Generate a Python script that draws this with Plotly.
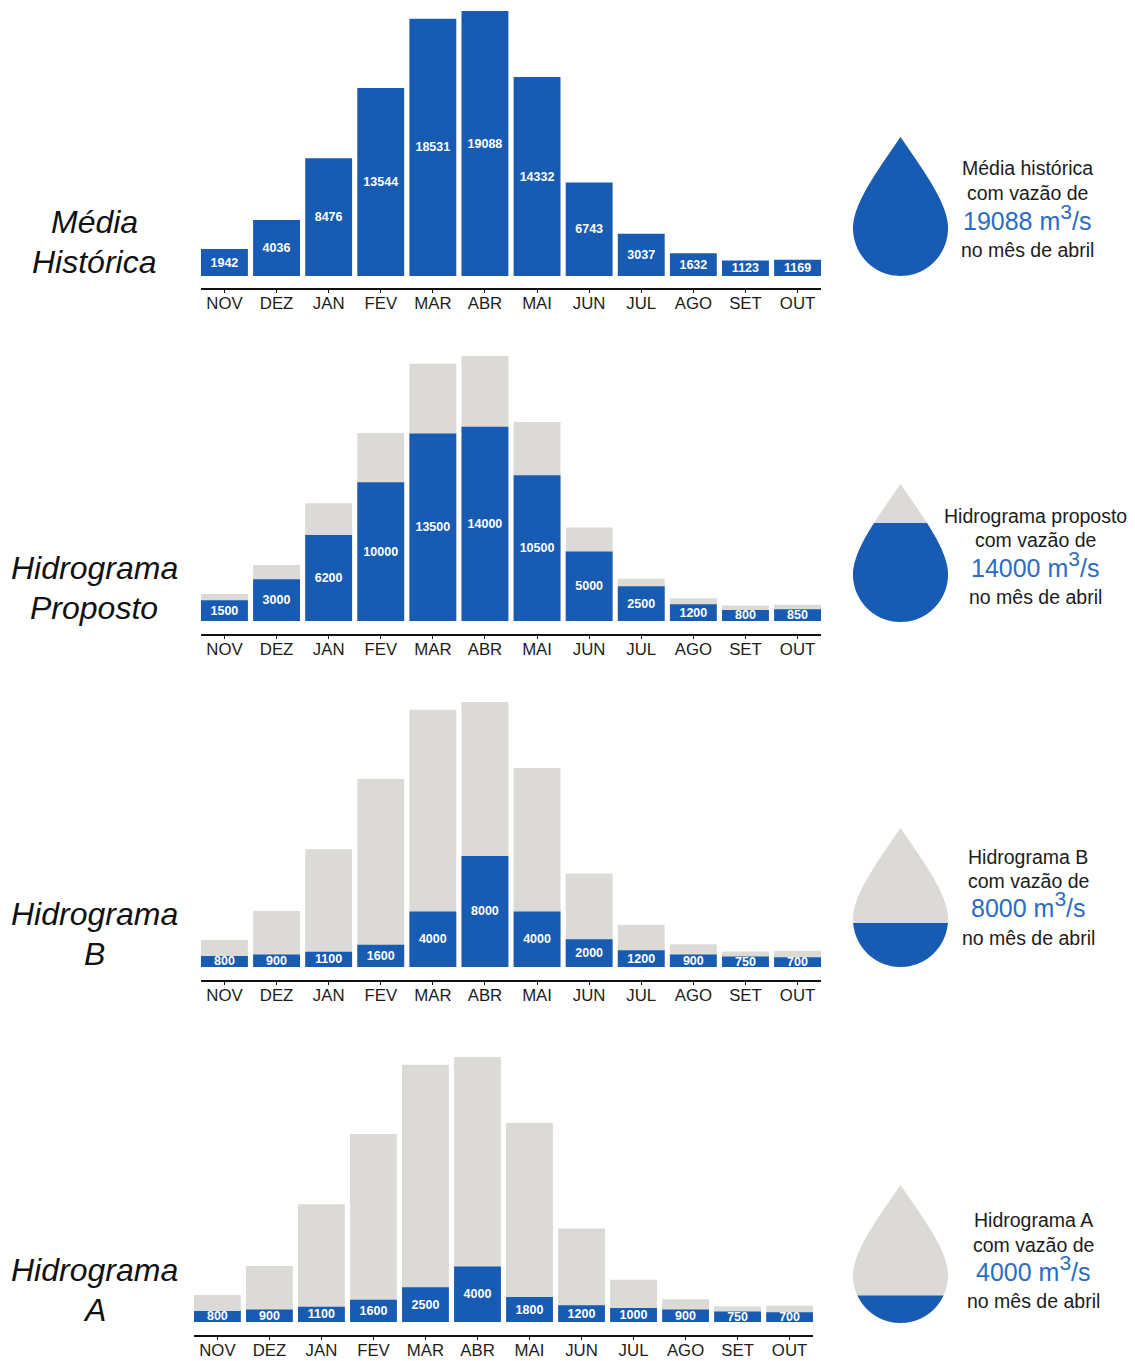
import numpy as np
import plotly.graph_objects as go

W, H = 1135, 1361

months = ["NOV", "DEZ", "JAN", "FEV", "MAR", "ABR", "MAI", "JUN", "JUL", "AGO", "SET", "OUT"]
historica = [1942, 4036, 8476, 13544, 18531, 19088, 14332, 6743, 3037, 1632, 1123, 1169]
proposto = [1500, 3000, 6200, 10000, 13500, 14000, 10500, 5000, 2500, 1200, 800, 850]
hidro_b = [800, 900, 1100, 1600, 4000, 8000, 4000, 2000, 1200, 900, 750, 700]
hidro_a = [800, 900, 1100, 1600, 2500, 4000, 1800, 1200, 1000, 900, 750, 700]

titles = [["Média", "Histórica"], ["Hidrograma", "Proposto"], ["Hidrograma", "B"], ["Hidrograma", "A"]]
caption_heads = ["Média histórica", "Hidrograma proposto", "Hidrograma B", "Hidrograma A"]
april_flows = [19088, 14000, 8000, 4000]
drop_levels = [1.0, 0.717, 0.317, 0.2]

BLUE = "#175CB2"
GREY = "#DBDAD6"
FLOW_TEXT = "#2B6CC0"
INK = "#1c1c1c"
FONT = "Liberation Sans"

# per-panel pixel layout: axis left/right, baseline, axis line
panels = [
    dict(values=historica, left=201, right=821, base=276, axis=288, ghost=False,
         title_y=(222, 262), cap_x=1027, cap_y=(168, 193, 217, 250), drop=(137, 276)),
    dict(values=proposto, left=201, right=821, base=621, axis=634, ghost=True,
         title_y=(568, 608), cap_x=1035, cap_y=(516, 540, 564, 597), drop=(484, 622)),
    dict(values=hidro_b, left=201, right=821, base=967, axis=980, ghost=True,
         title_y=(914, 954), cap_x=1028, cap_y=(857, 881, 905, 938), drop=(828, 967)),
    dict(values=hidro_a, left=194, right=813, base=1322, axis=1335, ghost=True,
         title_y=(1270, 1310), cap_x=1033, cap_y=(1220, 1245, 1268, 1301), drop=(1185, 1323)),
]

PX_PER_UNIT = 265 / 19088
DROP_X = (853, 948)


def px_y(y):
    return 1 - y / H


def drop_half_width():
    """Half width of the teardrop by relative height: round belly, tapered tip."""
    theta = np.linspace(-np.pi / 2, 0, 60)
    belly_h = 0.345 + 0.345 * np.sin(theta)
    belly_w = np.cos(theta)
    t = np.linspace(0, 1, 80)
    p0, p1, p2, p3 = np.array([1, 0.345]), np.array([1, 0.52]), np.array([0.5, 0.75]), np.array([0, 1.0])
    curve = ((1 - t) ** 3)[:, None] * p0 + (3 * (1 - t) ** 2 * t)[:, None] * p1 \
        + (3 * (1 - t) * t ** 2)[:, None] * p2 + (t ** 3)[:, None] * p3
    return np.r_[belly_h, curve[1:, 1]], np.r_[belly_w, curve[1:, 0]]


def drop_outline(level):
    hs, ws = drop_half_width()
    h = np.linspace(0, level, 160)
    w = np.interp(h, hs, ws)
    return np.r_[w, -w[::-1]], np.r_[h, h[::-1]]


fig = go.Figure()
annotations = []
layout_axes = {}

for i, p in enumerate(panels):
    ax = 2 * i + 1
    xname, yname = ("x", "y") if ax == 1 else (f"x{ax}", f"y{ax}")
    top_px = p["base"] - 19088 * PX_PER_UNIT
    y_low = -(p["axis"] - p["base"]) / PX_PER_UNIT

    if p["ghost"]:
        fig.add_trace(go.Bar(x=months, y=historica, width=0.9, marker=dict(color=GREY, line_width=0),
                             xaxis=xname, yaxis=yname, hoverinfo="skip", showlegend=False))
    fig.add_trace(go.Bar(x=months, y=p["values"], width=0.9, marker=dict(color=BLUE, line_width=0),
                         text=[str(v) for v in p["values"]], textposition="inside",
                         insidetextanchor="middle", constraintext="none", textangle=0, cliponaxis=False,
                         textfont=dict(family=FONT, size=12.5, color="white", weight="bold"),
                         xaxis=xname, yaxis=yname, showlegend=False))

    suffix = "" if ax == 1 else str(ax)
    layout_axes[f"xaxis{suffix}"] = dict(
        domain=[p["left"] / W, p["right"] / W], anchor=yname, type="category",
        categoryorder="array", categoryarray=months, range=[-0.45, 11.45],
        showline=True, linecolor="#111111", linewidth=2, showgrid=False, zeroline=False,
        ticks="outside", ticklen=3, tickwidth=1, tickcolor="#111111", ticklabelstandoff=-4,
        tickfont=dict(family=FONT, size=16.8, color=INK), fixedrange=True)
    layout_axes[f"yaxis{suffix}"] = dict(
        domain=[px_y(p["axis"]), px_y(top_px)], anchor=xname, range=[y_low, 19088],
        visible=False, fixedrange=True)

    # teardrop gauge on its own pair of hidden axes
    dax = 2 * i + 2
    dx, dy = f"x{dax}", f"y{dax}"
    layout_axes[f"xaxis{dax}"] = dict(domain=[DROP_X[0] / W, DROP_X[1] / W], anchor=dy, range=[-1, 1],
                                      visible=False, fixedrange=True)
    layout_axes[f"yaxis{dax}"] = dict(domain=[px_y(p["drop"][1]), px_y(p["drop"][0])], anchor=dx, range=[0, 1],
                                      visible=False, fixedrange=True)
    if drop_levels[i] < 1:
        gx, gy = drop_outline(1.0)
        fig.add_trace(go.Scatter(x=gx, y=gy, fill="toself", fillcolor=GREY, mode="none",
                                 xaxis=dx, yaxis=dy, hoverinfo="skip", showlegend=False))
    bx, by = drop_outline(drop_levels[i])
    fig.add_trace(go.Scatter(x=bx, y=by, fill="toself", fillcolor=BLUE, mode="none",
                             xaxis=dx, yaxis=dy, hoverinfo="skip", showlegend=False))

    for line, y in zip(titles[i], p["title_y"]):
        annotations.append(dict(text=f"<i>{line}</i>", x=94 / W, y=px_y(y), xref="paper", yref="paper",
                                showarrow=False, xanchor="center", yanchor="middle",
                                font=dict(family=FONT, size=32, color="#111111")))

    cube = '<sup><span style="font-size:21px">3</span></sup>'
    caption = [
        (caption_heads[i], 19.5, INK),
        ("com vazão de", 19.5, INK),
        (f"{april_flows[i]} m{cube}/s", 25, FLOW_TEXT),
        ("no mês de abril", 19.5, INK),
    ]
    for (txt, size, col), y in zip(caption, p["cap_y"]):
        annotations.append(dict(text=txt, x=p["cap_x"] / W, y=px_y(y), xref="paper", yref="paper",
                                showarrow=False, xanchor="center", yanchor="middle",
                                font=dict(family=FONT, size=size, color=col)))

fig.update_layout(
    width=W, height=H, autosize=False, margin=dict(l=0, r=0, t=0, b=0),
    paper_bgcolor="white", plot_bgcolor="white", barmode="overlay",
    annotations=annotations, **layout_axes)

fig.write_html("out.html", config={"displayModeBar": False})
